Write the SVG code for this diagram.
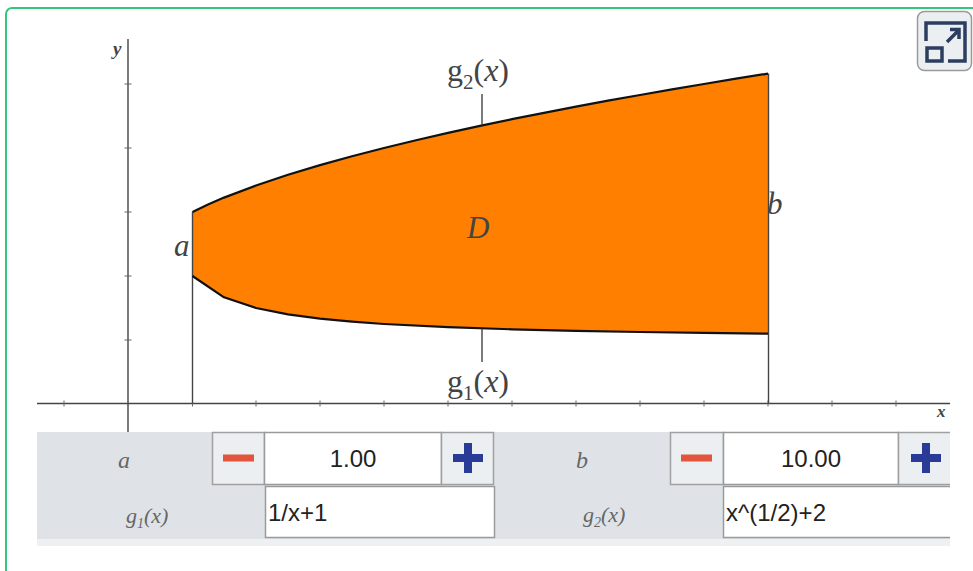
<svg xmlns="http://www.w3.org/2000/svg" width="973" height="571" viewBox="0 0 973 571">
<style>
.ax{stroke:#444;stroke-width:1.4;fill:none}
.tk{stroke:#666;stroke-width:1;fill:none}
.lbl{font-family:"Liberation Serif",serif;fill:#444}
.it{font-style:italic}
.inp{fill:#fff;stroke:#9a9a9a;stroke-width:1.5}
.btn{fill:#eceff1;stroke:#a0a0a0;stroke-width:1.5}
.val{font-family:"Liberation Sans",Arial,sans-serif;font-size:24px;fill:#222}
.plbl{font-family:"Liberation Serif",serif;font-style:italic;fill:#666}
.minus{fill:#e2553c}
.plus{fill:#2a3b97}
.icon{stroke:#2c3e5f;stroke-width:3.5;fill:none}
</style>
<rect x="0" y="0" width="973" height="571" fill="#fff"/>
<rect x="6" y="8" width="990" height="600" rx="6" fill="none" stroke="#34c77b" stroke-width="2"/>

<g id="expand-icon">
<rect x="917.5" y="11.5" width="54" height="59" rx="7" fill="#eceff1" stroke="#9a9a9a" stroke-width="1.5"/>
<path class="icon" d="M926 41 V23 H965 V61 H948"/>
<rect class="icon" x="927" y="48" width="15" height="13"/>
<path class="icon" d="M947 42 L959 30 M950 29.5 H959 V39"/>
</g>

<g id="region">
<path fill="#ff8000" stroke="none" d="M192.5 212 L208 204.4 L224 197.6 L256 185.5 L288 174.8 L320 165.1 L352 156.3 L384 148 L416 140.2 L448 132.9 L480 125.9 L512 119.2 L544 112.8 L576 106.7 L608 100.7 L640 95 L672 89.4 L704 84 L736 78.7 L768 73.6 L768 333.6 L704 332.9 L640 332 L576 330.9 L512 329.3 L448 327.2 L384 324 L352 321.7 L320 318.7 L288 314.4 L256 308 L224 297.3 L192.5 276 Z"/>
</g>

<g id="axes">
<line class="ax" x1="37" y1="403.5" x2="950" y2="403.5"/>
<line class="ax" x1="128" y1="39" x2="128" y2="432"/>
<path class="tk" d="M124.5 340 H131.5 M124.5 276 H131.5 M124.5 212 H131.5 M124.5 148 H131.5 M124.5 84 H131.5"/>
<path class="tk" d="M64 400.5 V406.5 M192.5 400.5 V406.5 M256 400.5 V406.5 M320 400.5 V406.5 M384 400.5 V406.5 M448 400.5 V406.5 M512 400.5 V406.5 M576 400.5 V406.5 M640 400.5 V406.5 M704 400.5 V406.5 M768 400.5 V406.5 M832 400.5 V406.5 M896 400.5 V406.5"/>
<text class="lbl it" x="113" y="55" font-size="19" font-weight="bold" fill="#555">y</text>
<text class="lbl it" x="937" y="417" font-size="17" font-weight="bold" fill="#555">x</text>
</g>

<g id="connectors">
<line class="ax" x1="192.5" y1="212" x2="192.5" y2="403.5" stroke="#333"/>
<line class="ax" x1="768.5" y1="73.6" x2="768.5" y2="403.5" stroke="#333"/>
<path fill="none" stroke="#111" stroke-width="2.2" stroke-linejoin="round" d="M192.5 212 L208 204.4 L224 197.6 L256 185.5 L288 174.8 L320 165.1 L352 156.3 L384 148 L416 140.2 L448 132.9 L480 125.9 L512 119.2 L544 112.8 L576 106.7 L608 100.7 L640 95 L672 89.4 L704 84 L736 78.7 L768 73.6"/>
<path fill="none" stroke="#111" stroke-width="2.2" stroke-linejoin="round" d="M192.5 276 L224 297.3 L256 308 L288 314.4 L320 318.7 L352 321.7 L384 324 L448 327.2 L512 329.3 L576 330.9 L640 332 L704 332.9 L768 333.6"/>
<line x1="482" y1="94" x2="482" y2="125.5" stroke="#333" stroke-width="1.3"/>
<line x1="482" y1="328.5" x2="482" y2="362" stroke="#333" stroke-width="1.3"/>
</g>

<g id="labels">
<text class="lbl" x="447" y="81" font-size="32">g<tspan font-size="21" dy="8">2</tspan><tspan dy="-8">(</tspan><tspan font-style="italic">x</tspan>)</text>
<text class="lbl" x="447" y="392" font-size="32">g<tspan font-size="21" dy="8">1</tspan><tspan dy="-8">(</tspan><tspan font-style="italic">x</tspan>)</text>
<text class="lbl it" x="174" y="256" font-size="31" fill="#444">a</text>
<text class="lbl it" x="767" y="214" font-size="31" fill="#222">b</text>
<text class="lbl it" x="467" y="238" font-size="31" fill="#111">D</text>
</g>

<g id="panel">
<rect x="37" y="432" width="913" height="107" fill="#dfe3e7"/>
<rect x="37" y="539" width="913" height="7" fill="#eef0f2"/>
<text class="plbl" x="124" y="468" font-size="24" text-anchor="middle">a</text>
<text class="plbl" x="126" y="523" font-size="22">g<tspan font-size="14" dy="5">1</tspan><tspan dy="-5">(x)</tspan></text>
<text class="plbl" x="582" y="468" font-size="24" text-anchor="middle">b</text>
<text class="plbl" x="583" y="522" font-size="22">g<tspan font-size="14" dy="5">2</tspan><tspan dy="-5">(x)</tspan></text>
</g>

<g id="a-minus">
<rect class="btn" x="212.5" y="432.5" width="52" height="52"/>
<rect class="minus" x="223" y="454.5" width="31" height="7"/>
</g>
<g id="a-value">
<rect class="inp" x="264.5" y="432.5" width="177" height="52"/>
<text class="val" x="353" y="467" text-anchor="middle">1.00</text>
</g>
<g id="a-plus">
<rect class="btn" x="441.5" y="432.5" width="52" height="52"/>
<rect class="plus" x="453" y="454" width="30" height="8"/>
<rect class="plus" x="464" y="443" width="8" height="30"/>
</g>
<g id="g1-input">
<rect class="inp" x="265.5" y="486.5" width="229" height="51"/>
<text class="val" x="268" y="521">1/x+1</text>
</g>

<g id="b-minus">
<rect class="btn" x="670.5" y="432.5" width="53" height="52"/>
<rect class="minus" x="681" y="454.5" width="31" height="7"/>
</g>
<g id="b-value">
<rect class="inp" x="723.5" y="432.5" width="175" height="52"/>
<text class="val" x="811" y="467" text-anchor="middle">10.00</text>
</g>
<g id="b-plus">
<rect class="btn" x="898.5" y="432.5" width="60" height="52"/>
<rect class="plus" x="911" y="454" width="30" height="8"/>
<rect class="plus" x="922" y="443" width="8" height="30"/>
</g>
<g id="g2-input">
<rect class="inp" x="723.5" y="486.5" width="240" height="51"/>
<text class="val" x="726" y="521">x^(1/2)+2</text>
</g>
<rect x="950" y="430" width="23" height="120" fill="#fff"/>
</svg>
